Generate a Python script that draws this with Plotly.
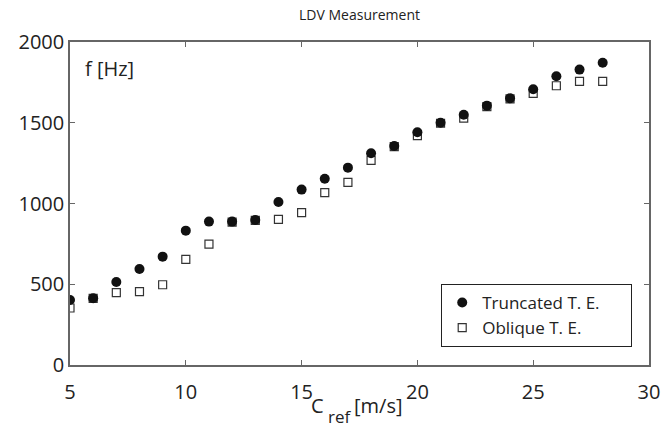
import plotly.graph_objects as go

c_ref = [5, 6, 7, 8, 9, 10, 11, 12, 13, 14, 15, 16, 17, 18, 19, 20, 21, 22, 23, 24, 25, 26, 27, 28]
truncated = [402, 413, 514, 594, 671, 832, 888, 888, 898, 1009, 1086, 1153, 1222, 1311, 1356, 1441,
             1500, 1550, 1606, 1651, 1707, 1788, 1829, 1872]
oblique = [353, 413, 448, 454, 497, 654, 749, 885, 895, 902, 943, 1067, 1131, 1267, 1352, 1420,
           1497, 1529, 1600, 1648, 1682, 1729, 1756, 1756]
x_ticks = [5, 10, 15, 20, 25, 30]
y_ticks = [0, 500, 1000, 1500, 2000]

font = "Open Sans, Lato, sans-serif"
txt = "#222222"
pad = "&nbsp;" * 6

fig = go.Figure()
fig.add_trace(go.Scatter(x=c_ref, y=oblique, mode="markers", name="Oblique T. E." + pad,
                         marker=dict(symbol="square-open", size=8, color="#333333",
                                     line=dict(width=1.2, color="#333333"))))
fig.add_trace(go.Scatter(x=c_ref, y=truncated, mode="markers", name="Truncated T. E." + pad,
                         marker=dict(symbol="circle", size=10, color="#111111")))

axis_common = dict(showgrid=False, zeroline=False, showline=True, linecolor="#666666",
                   linewidth=1.5, mirror="ticks", ticks="inside", ticklen=5,
                   tickcolor="#666666", tickwidth=1, automargin=False,
                   tickfont=dict(family=font, size=20, color=txt))

fig.update_layout(
    width=661, height=428,
    margin=dict(l=70, r=12, t=42, b=63, autoexpand=False),
    paper_bgcolor="white", plot_bgcolor="white",
    title=dict(text="LDV Measurement", x=0.5, xref="paper", xanchor="center",
               y=0.965, yref="container", yanchor="middle",
               font=dict(family=font, size=14, color=txt)),
    xaxis=dict(range=[5, 30], tickvals=x_ticks, ticklabelstandoff=8, **axis_common),
    yaxis=dict(range=[0, 2000], tickvals=y_ticks, **axis_common),
    showlegend=True,
    legend=dict(x=0.971, y=0.056, xanchor="right", yanchor="bottom", traceorder="reversed",
                bordercolor="#222222", borderwidth=1, bgcolor="white",
                font=dict(family=font, size=17, color=txt)),
    annotations=[
        dict(text="f [Hz]", xref="paper", yref="paper", x=0.022, y=0.965, xanchor="left",
             yanchor="top", showarrow=False, font=dict(family=font, size=20, color=txt)),
        dict(text="C", xref="paper", yref="paper", x=0.4283, y=-0.125,
             xanchor="center", yanchor="middle", showarrow=False,
             font=dict(family=font, size=20, color=txt)),
        dict(text="ref", xref="paper", yref="paper", x=0.4663, y=-0.16,
             xanchor="center", yanchor="middle", showarrow=False,
             font=dict(family=font, size=17, color=txt)),
        dict(text="[m/s]", xref="paper", yref="paper", x=0.5322, y=-0.126,
             xanchor="center", yanchor="middle", showarrow=False,
             font=dict(family=font, size=20, color=txt)),
    ],
)

fig.write_html("out.html", config={"displayModeBar": False},
               post_script="document.body.style.margin='0';")
